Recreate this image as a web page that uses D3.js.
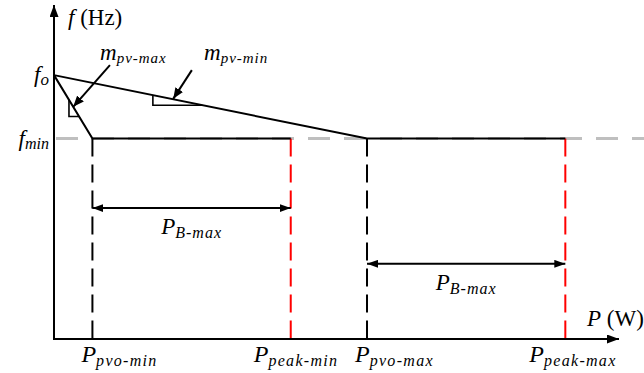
<!DOCTYPE html>
<html>
<head>
<meta charset="utf-8">
<script src="https://cdn.jsdelivr.net/npm/d3@7"></script>
<style>
  body { margin: 0; background: #fff; }
</style>
</head>
<body>
<svg id="chart" width="644" height="373"></svg>
<script>
// Operating points of the droop characteristic (normalised axis units)
const pvoLevels  = [6.8, 55.4];     // P_pvo-min, P_pvo-max
const peakLevels = [41.9, 90.5];    // P_peak-min, P_peak-max
const fNominal = 79;                // f_o
const fMin = 60;                    // f_min
const spanLevels = [39.2, 22.5];    // heights of the two P_B-max span arrows
const tickSubs = ["pvo-min", "peak-min", "pvo-max", "peak-max"];
const tickValues = [pvoLevels[0], peakLevels[0], pvoLevels[1], peakLevels[1]];
const slopeNames = ["pv-max", "pv-min"];
const slopeMarkAt = [2.65, 17.5];   // where the slope triangles sit on each droop line
const slopeMarkDepth = [5, 3];      // triangle depth in f units

const SERIF = "'Liberation Serif', 'Times New Roman', serif";
const svg = d3.select("#chart");
const x = d3.scaleLinear().domain([0, 100]).range([54, 619]);
const y = d3.scaleLinear().domain([0, 100]).range([339, 5]);

// arrowheads
const defs = svg.append("defs");
function marker(id, w, h) {
  defs.append("marker").attr("id", id)
    .attr("viewBox", `0 0 ${w} ${h}`).attr("refX", w).attr("refY", h / 2)
    .attr("markerWidth", w).attr("markerHeight", h)
    .attr("markerUnits", "userSpaceOnUse").attr("orient", "auto-start-reverse")
    .append("path").attr("d", `M0,0L${w},${h / 2}L0,${h}Z`).attr("fill", "#000");
}
marker("axisHead", 12, 9);
marker("spanHead", 11, 8);
marker("noteHead", 11, 9);

const line = d3.line().x(d => x(d[0])).y(d => y(d[1]));

function label(px, py) {
  return svg.append("text").attr("x", px).attr("y", py)
    .attr("font-family", SERIF).attr("fill", "#000");
}
function part(t, str, size, italic, dy, spacing) {
  const s = t.append("tspan")
    .attr("font-size", size)
    .attr("font-style", italic ? "italic" : "normal")
    .text(str);
  if (dy) s.attr("dy", dy);
  if (spacing) s.attr("letter-spacing", spacing);
  return s;
}

// f_min reference (grey dashed)
svg.append("line")
  .attr("x1", x(0) + 2).attr("x2", 644).attr("y1", y(fMin)).attr("y2", y(fMin))
  .attr("stroke", "#bfbfbf").attr("stroke-width", 3).attr("stroke-dasharray", "22 14");

// vertical dashed drops
tickValues.forEach((p, i) => {
  svg.append("line")
    .attr("x1", x(p)).attr("x2", x(p)).attr("y1", y(fMin)).attr("y2", y(0))
    .attr("stroke", i % 2 ? "#ff0000" : "#000").attr("stroke-width", 2)
    .attr("stroke-dasharray", "18 8");
});

// droop lines and flat segments
pvoLevels.forEach((p, i) => {
  svg.append("path")
    .attr("d", line([[0, fNominal], [p, fMin], [peakLevels[i], fMin]]))
    .attr("fill", "none").attr("stroke", "#000").attr("stroke-width", 2);
});

// slope triangles
pvoLevels.forEach((p, i) => {
  const slope = (fNominal - fMin) / p;
  const p0 = slopeMarkAt[i];
  const f0 = fNominal - slope * p0;
  const f1 = f0 - slopeMarkDepth[i];
  const p1 = p0 + slopeMarkDepth[i] / slope;
  svg.append("path")
    .attr("d", line([[p0, f0], [p0, f1], [p1, f1]]))
    .attr("fill", "none").attr("stroke", "#000").attr("stroke-width", 1.6);
});

// axes
svg.append("line").attr("x1", x(0)).attr("x2", x(0)).attr("y1", y(0) + 1).attr("y2", y(100))
  .attr("stroke", "#000").attr("stroke-width", 2).attr("marker-end", "url(#axisHead)");
svg.append("line").attr("x1", x(0) - 1).attr("x2", x(100)).attr("y1", y(0)).attr("y2", y(0))
  .attr("stroke", "#000").attr("stroke-width", 2).attr("marker-end", "url(#axisHead)");

// P_B-max span arrows
pvoLevels.forEach((p, i) => {
  svg.append("line")
    .attr("x1", x(p)).attr("x2", x(peakLevels[i])).attr("y1", y(spanLevels[i])).attr("y2", y(spanLevels[i]))
    .attr("stroke", "#000").attr("stroke-width", 2)
    .attr("marker-start", "url(#spanHead)").attr("marker-end", "url(#spanHead)");
  const t = label((x(p) + x(peakLevels[i])) / 2, y(spanLevels[i]) + 26).attr("text-anchor", "middle");
  part(t, "P", 23, true);
  part(t, "B-max", 16, true, 4, 1);
});

// slope annotations
const noteTails = [[9.9, 82.0], [24.4, 80.5]];
const noteHeads = [[3.4, 69.5], [21.1, 71.9]];
const noteLabelX = [100, 204];
noteTails.forEach((t, i) => {
  svg.append("path").attr("d", line([t, noteHeads[i]]))
    .attr("stroke", "#000").attr("stroke-width", 2).attr("marker-end", "url(#noteHead)");
  const tx = label(noteLabelX[i], 60);
  part(tx, "m", 23, true);
  part(tx, slopeNames[i], 15, true, 3, 1);
});

// tick labels on the P axis
const tickShift = [-11, -37, -12, -36];
tickValues.forEach((p, i) => {
  const t = label(x(p) + tickShift[i], 362);
  part(t, "P", 24, true);
  part(t, tickSubs[i], 16, true, 4, 1.3);
});

// f axis labels
const fo = label(49, y(fNominal) + 7).attr("text-anchor", "end");
part(fo, "f", 23, true);
part(fo, "o", 17, true, 3);
const fm = label(49, y(fMin) + 7).attr("text-anchor", "end");
part(fm, "f", 23, true);
part(fm, "min", 16, true, 3);

// axis titles
const ft = label(68, 25);
part(ft, "f", 23, true);
part(ft, " (Hz)", 23, false);
const pt = label(587, 326);
part(pt, "P", 23, true);
part(pt, " (W)", 23, false);
</script>
</body>
</html>
